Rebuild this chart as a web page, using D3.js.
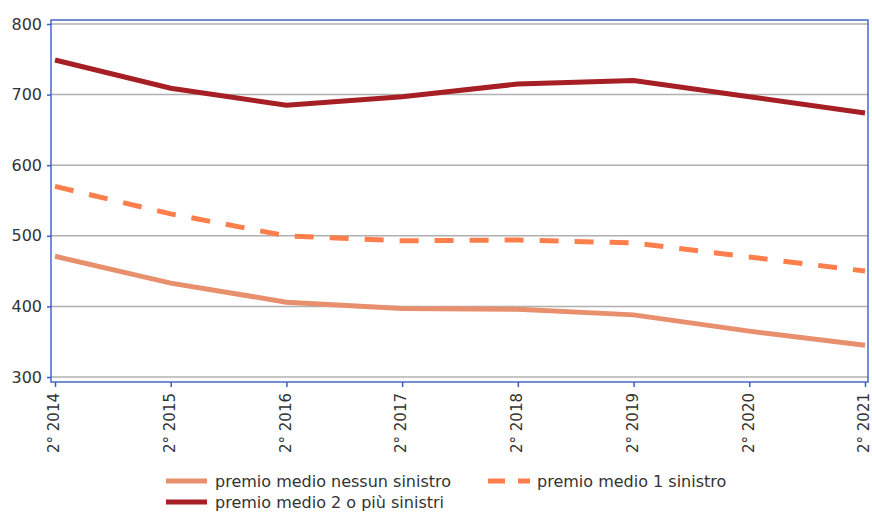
<!DOCTYPE html>
<html>
<meta charset="utf-8">
<head>
<script src="https://d3js.org/d3.v7.min.js"></script>
<style>
  body { margin: 0; background: #fff; }
  text { font-family: "DejaVu Sans", sans-serif; fill: #333; }
</style>
</head>
<body>
<script>
// dati
var periodi = ["2° 2014", "2° 2015", "2° 2016", "2° 2017", "2° 2018", "2° 2019", "2° 2020", "2° 2021"];
var nessunSinistro = [471, 433, 406, 397, 396, 388, 365, 345];
var unSinistro = [570, 531, 500, 493, 494, 490, 470, 450];
var dueOPiu = [749, 709, 685, 697, 715, 720, 697, 674];
var yTicks = [300, 400, 500, 600, 700, 800];

var width = 872, height = 513;
var mLeft = 51, mRight = 868, mTop = 20, mBottom = 382;

var svg = d3.select("body").append("svg")
  .attr("width", width)
  .attr("height", height);

var x = d3.scalePoint().domain(periodi).range([55, 865]);
var y = d3.scaleLinear().domain([300, 800]).range([377, 24]);

// griglia
svg.append("g").selectAll("line")
  .data(yTicks)
  .join("line")
  .attr("x1", mLeft).attr("x2", mRight)
  .attr("y1", d => y(d)).attr("y2", d => y(d))
  .attr("stroke", "#b0b0b0")
  .attr("stroke-width", 1.5);

// cornice
svg.append("rect")
  .attr("x", mLeft).attr("y", mTop)
  .attr("width", mRight - mLeft).attr("height", mBottom - mTop)
  .attr("fill", "none")
  .attr("stroke", "#3a5fc4")
  .attr("stroke-width", 1.4);

// asse y
var yAxis = svg.append("g")
  .attr("transform", "translate(" + mLeft + ",0)")
  .call(d3.axisLeft(y).tickValues(yTicks).tickSize(4).tickPadding(5));
yAxis.select(".domain").remove();
yAxis.selectAll("line").attr("stroke", "#3a5fc4").attr("stroke-width", 1.5);
yAxis.selectAll("text").style("font-size", "16px").attr("fill", "#333");

// asse x
var xAxis = svg.append("g")
  .attr("transform", "translate(0," + mBottom + ")")
  .call(d3.axisBottom(x).tickSize(5).tickSizeOuter(0));
xAxis.select(".domain").remove();
xAxis.selectAll("line").attr("stroke", "#3a5fc4").attr("stroke-width", 1.5);
xAxis.selectAll("text")
  .style("font-size", "15px")
  .attr("fill", "#333")
  .attr("text-anchor", "end")
  .attr("transform", "rotate(-90)")
  .attr("x", -11)
  .attr("y", 0)
  .attr("dy", "0.25em");

var line = d3.line()
  .x((d, i) => x(periodi[i]))
  .y(d => y(d));

var serie = [
  { nome: "premio medio nessun sinistro", valori: nessunSinistro, colore: "#e8906e", dash: null },
  { nome: "premio medio 1 sinistro", valori: unSinistro, colore: "#ff7f4c", dash: "19,16" },
  { nome: "premio medio 2 o più sinistri", valori: dueOPiu, colore: "#a51f24", dash: null }
];

svg.append("g").selectAll("path")
  .data(serie)
  .join("path")
  .attr("d", d => line(d.valori))
  .attr("fill", "none")
  .attr("stroke", d => d.colore)
  .attr("stroke-width", 5)
  .attr("stroke-dasharray", d => d.dash);

// legenda
var legPos = [[166, 481], [488, 481], [166, 502]];
var leg = svg.append("g").selectAll("g")
  .data(serie)
  .join("g")
  .attr("transform", (d, i) => "translate(" + legPos[i][0] + "," + legPos[i][1] + ")");

leg.append("line")
  .attr("x1", 0).attr("x2", d => d.dash ? 42 : 41)
  .attr("y1", 0).attr("y2", 0)
  .attr("stroke", d => d.colore)
  .attr("stroke-width", 5)
  .attr("stroke-dasharray", d => d.dash ? "17,13" : null);

leg.append("text")
  .attr("x", 49)
  .attr("y", 0)
  .attr("dy", "0.35em")
  .style("font-size", "16px")
  .text(d => d.nome);
</script>
</body>
</html>
